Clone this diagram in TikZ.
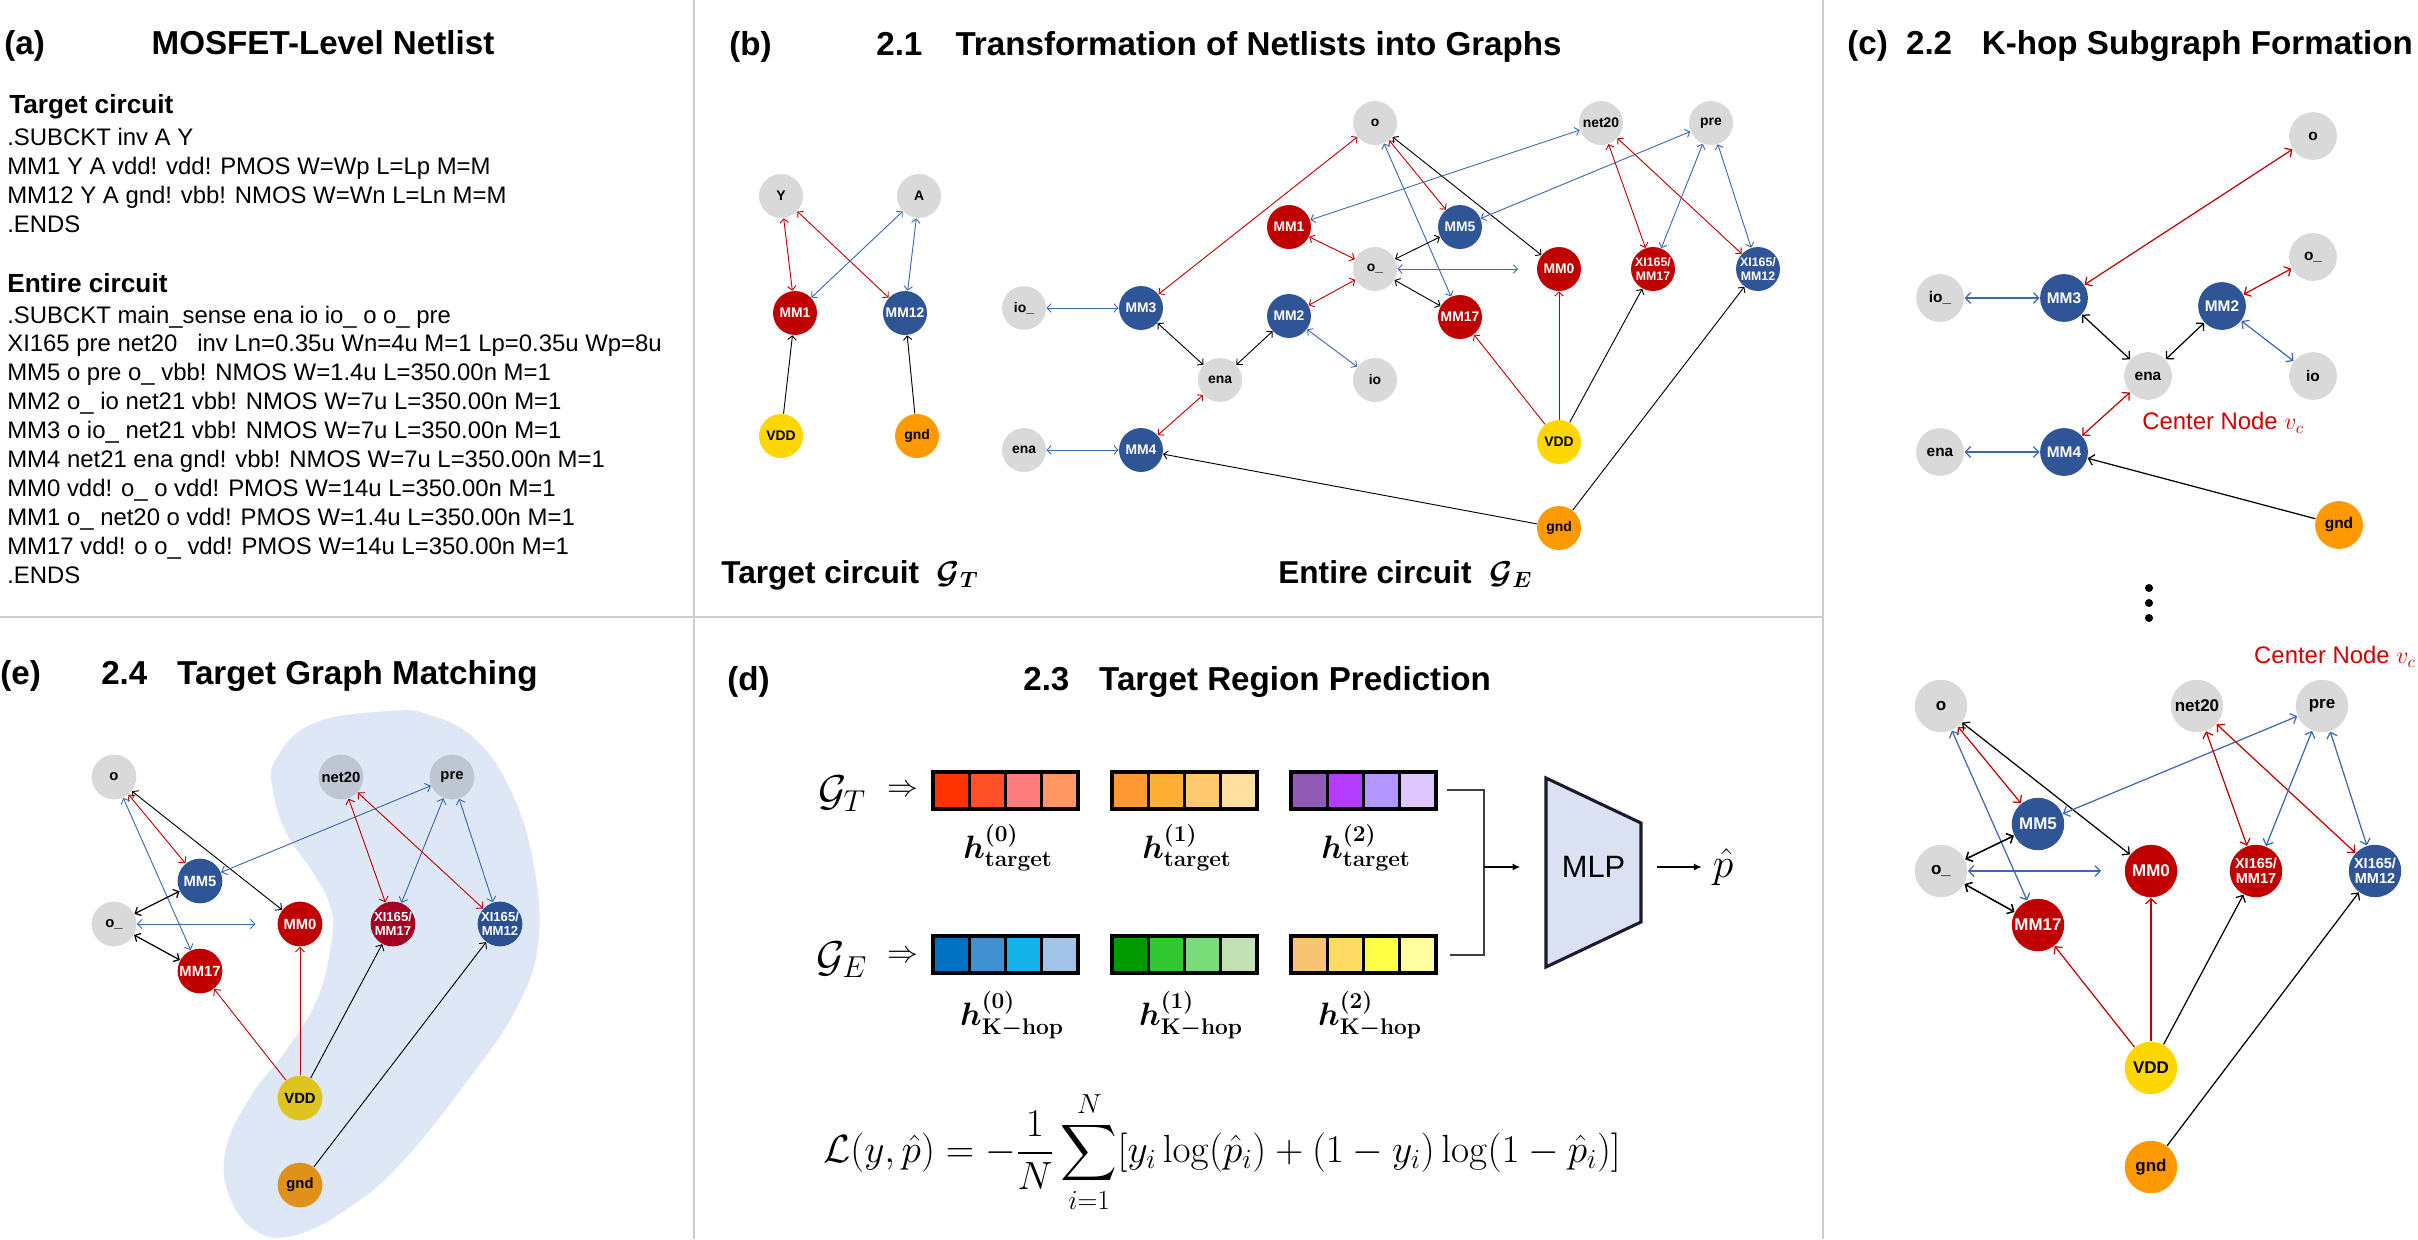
\RequirePackage{fix-cm}
\documentclass[tikz,border=0pt]{standalone}
\usepackage{amsmath,amssymb,bm}
\usepackage[no-math]{fontspec}
\setmainfont{Liberation Sans}
\setsansfont{Liberation Sans}
\usepackage{tikz}
\usetikzlibrary{arrows.meta}

\definecolor{ngray}{HTML}{D9D9D9}
\definecolor{nred}{HTML}{C00000}
\definecolor{nblue}{HTML}{2F5597}
\definecolor{nyellow}{HTML}{FFD700}
\definecolor{norange}{HTML}{FF9900}
\definecolor{ered}{HTML}{C00000}
\definecolor{eblue}{HTML}{3E68B0}
\definecolor{divgray}{HTML}{CCCCCC}
\definecolor{vcred}{HTML}{D00000}
\definecolor{blobfill}{HTML}{DEE7F6}
\definecolor{mlpfill}{HTML}{DAE1F2}
\definecolor{mlpedge}{HTML}{1A1A2E}
% node colours seen through the matched region
\definecolor{tgray}{HTML}{BEC6D4}
\definecolor{tred}{HTML}{A50021}
\definecolor{tblue}{HTML}{2A4F92}
\definecolor{tyellow}{HTML}{DEC41E}
\definecolor{torange}{HTML}{E09119}

\begin{document}
\begin{tikzpicture}[x=0.6485pt, y=-0.6485pt,
  >={Straight Barb[length=2.6pt,width=5.5pt]},
  every node/.style={inner sep=0pt},
  net/.style={circle, fill=ngray, text=black},
  pmos/.style={circle, fill=nred, text=white},
  nmos/.style={circle, fill=nblue, text=white},
  vdd/.style={circle, fill=nyellow, text=black},
  gnd/.style={circle, fill=norange, text=black},
  redlink/.style={<->, draw=ered},
  bluelink/.style={<->, draw=eblue},
  blklink/.style={<->, draw=black},
  srclink/.style={->},
  divider/.style={draw=divgray, line width=1.3pt},
  ttl/.style={anchor=base west, font=\bfseries\fontsize{21.5}{26}\selectfont},
  sub/.style={anchor=base west, font=\bfseries\fontsize{17}{20}\selectfont},
  code/.style={anchor=base west, font=\fontsize{15.5}{18}\selectfont},
  hlab/.style={anchor=base, font=\fontsize{21}{24}\selectfont},
  cell/.style={line width=2pt},
]
\useasboundingbox (0,0) rectangle (2418,1239);

% panel frames
\draw[divider] (694,0) -- (694,1239);
\draw[divider] (1823,0) -- (1823,1239);
\draw[divider] (0,617) -- (1823,617);

% (a) netlist
\node[ttl] (lbla) at (4,54) {(a)};
\node[ttl, anchor=base] (ttla) at (323,54) {MOSFET-Level Netlist};
\node[sub] (tgt) at (9,113) {Target circuit};
\foreach \txt [count=\i from 0] in {{.SUBCKT inv A Y},
    {MM1 Y A vdd! vdd! PMOS W=Wp L=Lp M=M},
    {MM12 Y A gnd! vbb! NMOS W=Wn L=Ln M=M},
    {.ENDS}}
  \node[code] at (7,{145+29.3*\i}) {\txt};
\node[sub] (ent) at (7,292) {Entire circuit};
\foreach \txt [count=\i from 0] in {{.SUBCKT main\_sense ena io io\_ o o\_ pre},
    {XI165 pre net20\ \ \ inv Ln=0.35u Wn=4u M=1 Lp=0.35u Wp=8u},
    {MM5 o pre o\_ vbb! NMOS W=1.4u L=350.00n M=1},
    {MM2 o\_ io net21 vbb! NMOS W=7u L=350.00n M=1},
    {MM3 o io\_ net21 vbb! NMOS W=7u L=350.00n M=1},
    {MM4 net21 ena gnd! vbb! NMOS W=7u L=350.00n M=1},
    {MM0 vdd! o\_ o vdd! PMOS W=14u L=350.00n M=1},
    {MM1 o\_ net20 o vdd! PMOS W=1.4u L=350.00n M=1},
    {MM17 vdd! o o\_ vdd! PMOS W=14u L=350.00n M=1},
    {.ENDS}}
  \node[code] at (7,{323+28.9*\i}) {\txt};

% (b) netlists as graphs
\node[ttl] (lblb) at (729,55) {(b)};
\node[ttl] (ttlb) at (876,55) {2.1\quad Transformation of Netlists into Graphs};
\begin{scope}[line width=0.6pt,
  every node/.append style={minimum size=28.5pt, font=\bfseries\fontsize{9}{9}\selectfont},
  pair/.style={align=center, font=\bfseries\fontsize{8}{8.5}\selectfont}]
  % target circuit
  \node[net]  (tY)   at (781,196) {Y};
  \node[net]  (tA)   at (919,196) {A};
  \node[pmos] (tM1)  at (795,313) {MM1};
  \node[nmos] (tM12) at (905,313) {MM12};
  \node[vdd]  (tV)   at (781,436) {VDD};
  \node[gnd]  (tG)   at (917,436) {gnd};
  \draw[redlink]  (tY) -- (tM1);
  \draw[redlink]  (tY) -- (tM12);
  \draw[bluelink] (tA) -- (tM1);
  \draw[bluelink] (tA) -- (tM12);
  \draw[srclink]  (tV) -- (tM1);
  \draw[srclink]  (tG) -- (tM12);
  % entire circuit
  \node[net]  (eo)    at (1375,123) {o};
  \node[net]  (enet)  at (1601,123) {net20};
  \node[net]  (epre)  at (1711,123) {pre};
  \node[pmos] (eM1)   at (1289,227) {MM1};
  \node[nmos] (eM5)   at (1460,227) {MM5};
  \node[net]  (eox)   at (1375,269) {o\_};
  \node[pmos] (eM0)   at (1559,269) {MM0};
  \node[pmos, pair] (eX17) at (1653,269) {XI165/\\MM17};
  \node[nmos, pair] (eX12) at (1758,269) {XI165/\\MM12};
  \node[net]  (eiox)  at (1024,308) {io\_};
  \node[nmos] (eM3)   at (1141,308) {MM3};
  \node[nmos] (eM2)   at (1289,316) {MM2};
  \node[pmos] (eM17)  at (1460,317) {MM17};
  \node[net]  (eena)  at (1220,380) {ena};
  \node[net]  (eio)   at (1375,380) {io};
  \node[net]  (eenaL) at (1024,450) {ena};
  \node[nmos] (eM4)   at (1141,450) {MM4};
  \node[vdd]  (eV)    at (1559,442) {VDD};
  \node[gnd]  (eG)    at (1559,528) {gnd};
  \draw[redlink]  (eo) -- (eM3);
  \draw[redlink]  (eo) -- (eM5);
  \draw[bluelink] (eo) -- (eM17);
  \draw[blklink]  (eo) -- (eM0);
  \draw[bluelink] (enet) -- (eM1);
  \draw[bluelink] (epre) -- (eM5);
  \draw[redlink]  (enet) -- (eX17);
  \draw[redlink]  (enet) -- (eX12);
  \draw[bluelink] (epre) -- (eX17);
  \draw[bluelink] (epre) -- (eX12);
  \draw[redlink]  (eM1) -- (eox);
  \draw[blklink]  (eM5) -- (eox);
  \draw[bluelink, shorten >=12pt] (eox) -- (eM0);
  \draw[redlink]  (eox) -- (eM2);
  \draw[blklink]  (eox) -- (eM17);
  \draw[bluelink] (eiox) -- (eM3);
  \draw[blklink]  (eM3) -- (eena);
  \draw[blklink]  (eM2) -- (eena);
  \draw[bluelink] (eM2) -- (eio);
  \draw[redlink]  (eena) -- (eM4);
  \draw[bluelink] (eenaL) -- (eM4);
  \draw[srclink, ered] (eV) -- (eM17);
  \draw[srclink, ered] (eV) -- (eM0);
  \draw[srclink] (eV) -- (eX17);
  \draw[srclink] (eG) -- (eM4);
  \draw[srclink] (eG) -- (eX12);
\end{scope}
\node[anchor=base west, font=\bfseries\fontsize{20.5}{24}\selectfont] (lbltc) at (721,583) {Target circuit\ \ $\bm{\mathcal{G}_T}$};
\node[anchor=base west, font=\bfseries\fontsize{20.5}{24}\selectfont] (lblec) at (1278,583) {Entire circuit\ \ $\bm{\mathcal{G}_E}$};

% (c) k-hop subgraphs
\node[ttl] (ttlc) at (1847,54) {(c)\hspace{0.55em}2.2\hspace{0.9em}K-hop Subgraph Formation};
\begin{scope}[line width=0.8pt, >={Straight Barb[length=3.4pt,width=7pt]},
  every node/.append style={minimum size=31pt, font=\bfseries\fontsize{10}{10}\selectfont}]
  \node[net]  (ko)    at (2313,136) {o};
  \node[net]  (kox)   at (2313,257) {o\_};
  \node[net]  (kiox)  at (1940,298) {io\_};
  \node[nmos] (kM3)   at (2064,298) {MM3};
  \node[nmos] (kM2)   at (2222,306) {MM2};
  \node[net]  (kena)  at (2148,376) {ena};
  \node[net]  (kio)   at (2313,376) {io};
  \node[net]  (kenaL) at (1940,452) {ena};
  \node[nmos] (kM4)   at (2064,452) {MM4};
  \node[gnd]  (kG)    at (2339,525) {gnd};
  \draw[redlink]  (kM3) -- (ko);
  \draw[bluelink] (kiox) -- (kM3);
  \draw[blklink]  (kM3) -- (kena);
  \draw[blklink]  (kM2) -- (kena);
  \draw[redlink]  (kM2) -- (kox);
  \draw[bluelink] (kM2) -- (kio);
  \draw[redlink]  (kM4) -- (kena);
  \draw[bluelink] (kenaL) -- (kM4);
  \draw[srclink]  (kG) -- (kM4);
\end{scope}
\node[font=\fontsize{15.5}{18}\selectfont, text=vcred] (vc1) at (2223,423) {Center Node $v_c$};
\foreach \yd in {588,603,618}
  \fill (2149,\yd) circle (2.6pt);
\node[anchor=east, font=\fontsize{15.5}{18}\selectfont, text=vcred] (vc2) at (2416,657) {Center Node $v_c$};
\begin{scope}[line width=0.8pt, >={Straight Barb[length=3.4pt,width=7pt]},
  every node/.append style={minimum size=34pt, font=\bfseries\fontsize{11}{11}\selectfont},
  pair/.style={align=center, font=\bfseries\fontsize{9.4}{10}\selectfont}]
  \node[net]  (co)   at (1941,706) {o};
  \node[net]  (cnet) at (2197,706) {net20};
  \node[net]  (cpre) at (2322,706) {pre};
  \node[nmos] (cM5)  at (2038,824) {MM5};
  \node[net]  (cox)  at (1941,871) {o\_};
  \node[pmos] (cM0)  at (2151,871) {MM0};
  \node[pmos, pair] (cX17) at (2256,871) {XI165/\\MM17};
  \node[nmos, pair] (cX12) at (2375,871) {XI165/\\MM12};
  \node[pmos] (cM17) at (2038,925) {MM17};
  \node[vdd]  (cV)   at (2151,1068) {VDD};
  \node[gnd]  (cG)   at (2151,1167) {gnd};
  \draw[redlink]  (co) -- (cM5);
  \draw[blklink]  (co) -- (cM0);
  \draw[bluelink] (co) -- (cM17);
  \draw[bluelink] (cpre) -- (cM5);
  \draw[redlink]  (cnet) -- (cX17);
  \draw[redlink]  (cnet) -- (cX12);
  \draw[bluelink] (cpre) -- (cX17);
  \draw[bluelink] (cpre) -- (cX12);
  \draw[blklink, line width=1pt] (cox) -- (cM5);
  \draw[bluelink, shorten >=15pt] (cox) -- (cM0);
  \draw[blklink, line width=1pt] (cox) -- (cM17);
  \draw[srclink, ered] (cV) -- (cM17);
  \draw[srclink, ered] (cV) -- (cM0);
  \draw[srclink] (cV) -- (cX17);
  \draw[srclink] (cG) -- (cX12);
\end{scope}

% (e) matching
\node[ttl] (lble) at (0,684) {(e)};
\node[ttl] (ttle) at (101,684) {2.4\hspace{0.9em}Target Graph Matching};
\fill[blobfill] plot[smooth cycle, tension=0.7] coordinates {(390,711) (430,715) (475,739)
  (511,791) (534,866) (538,945) (516,1009) (471,1076) (404,1160) (350,1207) (296,1235)
  (256,1231) (229,1195) (226,1148) (251,1096) (287,1049) (318,997) (332,937) (330,906)
  (314,874) (287,834) (273,791) (276,759) (314,723)};
\begin{scope}[line width=0.6pt, >={Straight Barb[length=3pt,width=6pt]},
  every node/.append style={minimum size=29pt, font=\bfseries\fontsize{9.6}{10}\selectfont},
  pair/.style={align=center, font=\bfseries\fontsize{8.5}{9}\selectfont}]
  \node[net]  (go)   at (114,777) {o};
  \node[net, fill=tgray]  (gnet) at (341,777) {net20};
  \node[net, fill=tgray]  (gpre) at (452,777) {pre};
  \node[nmos] (gM5)  at (200,881) {MM5};
  \node[net]  (gox)  at (114,924) {o\_};
  \node[pmos] (gM0)  at (300,924) {MM0};
  \node[pmos, pair, fill=tred] (gX17) at (393,924) {XI165/\\MM17};
  \node[nmos, pair, fill=tblue] (gX12) at (500,924) {XI165/\\MM12};
  \node[pmos] (gM17) at (200,971) {MM17};
  \node[vdd, fill=tyellow] (gV) at (300,1098) {VDD};
  \node[gnd, fill=torange] (gG) at (300,1185) {gnd};
  \draw[redlink]  (go) -- (gM5);
  \draw[blklink]  (go) -- (gM0);
  \draw[bluelink] (go) -- (gM17);
  \draw[bluelink] (gpre) -- (gM5);
  \draw[redlink]  (gnet) -- (gX17);
  \draw[redlink]  (gnet) -- (gX12);
  \draw[bluelink] (gpre) -- (gX17);
  \draw[bluelink] (gpre) -- (gX12);
  \draw[blklink, line width=0.8pt] (gox) -- (gM5);
  \draw[bluelink, shorten >=14pt] (gox) -- (gM0);
  \draw[blklink, line width=0.8pt] (gox) -- (gM17);
  \draw[srclink, ered] (gV) -- (gM17);
  \draw[srclink, ered] (gV) -- (gM0);
  \draw[srclink] (gV) -- (gX17);
  \draw[srclink] (gG) -- (gX12);
\end{scope}

% (d) prediction
\node[ttl] (lbld) at (727,690) {(d)};
\node[ttl] (ttld) at (1023,690) {2.3\hspace{0.9em}Target Region Prediction};
\node[anchor=base, font=\fontsize{28}{32}\selectfont] (gT) at (842,805) {$\mathcal{G}_T$};
\node[font=\fontsize{20}{24}\selectfont] (impT) at (903,791) {$\Rightarrow$};
\node[anchor=base, font=\fontsize{28}{32}\selectfont] (gE) at (842,971) {$\mathcal{G}_E$};
\node[font=\fontsize{20}{24}\selectfont] (impE) at (903,957) {$\Rightarrow$};
\foreach \xb/\yb/\hA/\hB/\hC/\hD in {933/772/FF3300/FF5028/FF7D7D/FF9664,
    1112/772/FF9933/FFAF32/FFC86E/FFDEA0, 1291/772/915AB4/B43CFF/B496FF/DEC8FF,
    933/936/0070C0/4091D2/14B4EB/A0C3E6, 1112/936/009900/32C832/78DC78/C3E1B4,
    1291/936/F8C373/FFDA64/FFFF46/FFFFA0}{
  \foreach \hx [count=\k from 0] in {\hA,\hB,\hC,\hD}{
    \edef\setcell{\noexpand\definecolor{cellc}{HTML}{\hx}}\setcell
    \filldraw[cell, fill=cellc] ({\xb+36.25*\k},\yb) rectangle ++(36.25,37);
  }
}
\node[hlab] (hT0) at (1008,858) {$\bm{h}^{\bm{(0)}}_{\mathbf{target}}$};
\node[hlab] (hT1) at (1187,858) {$\bm{h}^{\bm{(1)}}_{\mathbf{target}}$};
\node[hlab] (hT2) at (1366,858) {$\bm{h}^{\bm{(2)}}_{\mathbf{target}}$};
\node[hlab] (hE0) at (1012,1025) {$\bm{h}^{\bm{(0)}}_{\mathbf{K}\bm{-}\mathbf{hop}}$};
\node[hlab] (hE1) at (1191,1025) {$\bm{h}^{\bm{(1)}}_{\mathbf{K}\bm{-}\mathbf{hop}}$};
\node[hlab] (hE2) at (1370,1025) {$\bm{h}^{\bm{(2)}}_{\mathbf{K}\bm{-}\mathbf{hop}}$};
\coordinate (jT) at (1447,790);
\coordinate (jm) at (1484,867);
\coordinate (jE) at (1450,955);
\draw[draw=black!75, line width=0.8pt] (jT) -| (jm) |- (jE);
\filldraw[fill=mlpfill, draw=mlpedge, line width=2pt] (1546,778) -- (1641,823) -- (1641,922) -- (1546,967) -- cycle;
\node[minimum width=61.6pt, minimum height=20pt, font=\fontsize{20}{24}\selectfont] (mlp) at (1593.5,867) {MLP};
\node[font=\fontsize{27}{30}\selectfont] (phat) at (1723,867) {$\hat{p}$};
\draw[-{Latex[length=5pt,width=4.5pt]}, line width=0.8pt] (jm) -- ([xshift=-16.5pt]mlp.west);
\draw[-{Latex[length=5pt,width=4.5pt]}, line width=0.8pt] ([xshift=10pt]mlp.east) -- ([xshift=-7pt]phat.west);
\node[font=\fontsize{25.5}{30}\selectfont] (loss) at (1222,1152)
  {$\displaystyle \mathcal{L}(y,\hat{p}) = -\frac{1}{N}\sum_{i=1}^{N}[y_i\log(\hat{p}_i)+(1-y_i)\log(1-\hat{p}_i)]$};
\end{tikzpicture}
\end{document}
